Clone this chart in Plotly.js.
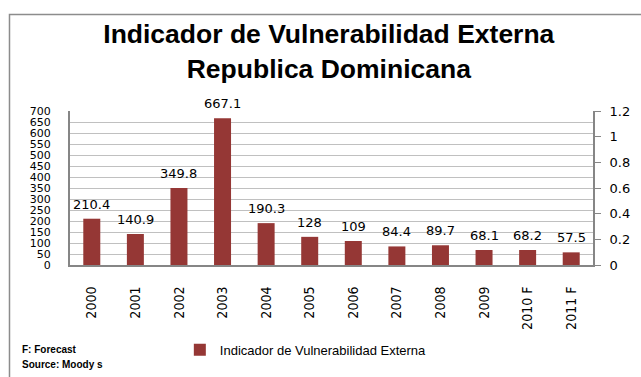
<!DOCTYPE html>
<html>
<head>
<meta charset="utf-8">
<script src="https://cdn.plot.ly/plotly-3.0.1.min.js"></script>
<style>html,body{margin:0;padding:0;background:#fff;}#chart{width:641px;height:377px;}</style>
</head>
<body>
<div id="chart"></div>
<script>
var categories = ["2000","2001","2002","2003","2004","2005","2006","2007","2008","2009","2010 F","2011 F"];
var values = [210.4, 140.9, 349.8, 667.1, 190.3, 128, 109, 84.4, 89.7, 68.1, 68.2, 57.5];
var valueLabels = ["210.4","140.9","349.8","667.1","190.3","128","109","84.4","89.7","68.1","68.2","57.5"];
var seriesName = "Indicador de Vulnerabilidad Externa";
var titleText = "Indicador de Vulnerabilidad Externa<br>Republica Dominicana";
var notes = ["F: Forecast", "Source: Moody s"];

var barColor = "#953735";
var axisGray = "#868686";

var trace = {
  type: "bar",
  x: categories,
  y: values,
  name: seriesName,
  marker: {color: barColor},
  hoverinfo: "x+y"
};
// empty helper trace so the secondary (right) axis is drawn
var rightAxisTrace = {type: "scatter", mode: "markers", x: [], y: [], xaxis: "x", yaxis: "y2", showlegend: false, hoverinfo: "skip"};

var annotations = categories.map(function(c, i) {
  return {
    x: i, y: values[i], xref: "x", yref: "y",
    text: valueLabels[i], showarrow: false,
    yanchor: "bottom", yshift: 5,
    font: {family: "DejaVu Sans", size: 13, color: "#000"}
  };
});
annotations.push({
  xref: "paper", yref: "paper", x: -0.0956, y: -0.551, xanchor: "left", yanchor: "middle",
  text: "<b>" + notes[0] + "</b>", showarrow: false,
  font: {family: "Liberation Sans", size: 10, color: "#000"}
});
annotations.push({
  xref: "paper", yref: "paper", x: -0.0956, y: -0.648, xanchor: "left", yanchor: "middle",
  text: "<b>" + notes[1] + "</b>", showarrow: false,
  font: {family: "Liberation Sans", size: 10, color: "#000"}
});

var layout = {
  width: 641, height: 377,
  margin: {l: 70, r: 48, t: 111, b: 108, pad: 0},
  paper_bgcolor: "#fff", plot_bgcolor: "#fff",
  title: {
    text: titleText,
    font: {family: "Liberation Sans", size: 26.5, color: "#000", weight: "bold"},
    x: 0.513, xanchor: "center", xref: "container",
    y: 0.885, yanchor: "top", yref: "container"
  },
  bargap: 0.61,
  showlegend: true,
  legend: {
    orientation: "h", x: 0.21, y: -0.55, xanchor: "left", yanchor: "middle",
    font: {family: "Liberation Sans", size: 13, color: "#000"},
    bgcolor: "rgba(0,0,0,0)"
  },
  xaxis: {
    type: "category", categoryorder: "array", categoryarray: categories,
    range: [-0.5, categories.length - 0.5],
    showline: true, linecolor: axisGray, linewidth: 2,
    showgrid: false, zeroline: false,
    ticks: "", tickangle: -90, ticklabelstandoff: 14,
    tickfont: {family: "DejaVu Sans Condensed, Liberation Sans, sans-serif", size: 14, color: "#000"}
  },
  yaxis: {
    range: [0, 700], dtick: 50, tick0: 0,
    showline: true, linecolor: axisGray, linewidth: 2,
    showgrid: true, gridcolor: "#c0c0c0", gridwidth: 1,
    zeroline: false, ticks: "", ticklabelstandoff: 15,
    tickfont: {family: "DejaVu Sans", size: 11, color: "#000"}
  },
  yaxis2: {
    overlaying: "y", side: "right", anchor: "x",
    range: [0, 1.2], dtick: 0.2, tick0: 0,
    showline: true, linecolor: axisGray, linewidth: 2,
    showgrid: false, zeroline: false,
    ticks: "outside", ticklen: 6, tickcolor: axisGray, tickwidth: 1,
    ticklabelstandoff: 6,
    tickfont: {family: "DejaVu Sans", size: 13, color: "#000"}
  },
  shapes: [{
    type: "rect", xref: "paper", yref: "paper",
    x0: -0.1157, x1: 1.3, y0: -0.75, y1: 1.627,
    line: {color: "#8c8c8c", width: 1.5}, fillcolor: "rgba(0,0,0,0)", layer: "below"
  }],
  annotations: annotations
};

Plotly.newPlot("chart", [trace, rightAxisTrace], layout, {staticPlot: true, displayModeBar: false});
</script>
</body>
</html>
